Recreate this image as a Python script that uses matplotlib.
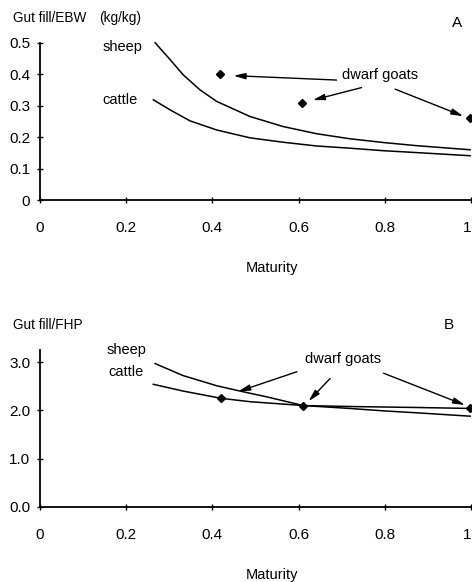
import matplotlib
matplotlib.use("Agg")
import matplotlib.pyplot as plt

plt.rcParams['font.family'] = ['Liberation Sans Narrow', 'Liberation Sans', 'DejaVu Sans']

# panel A: gut fill / empty body weight (kg/kg)
mat_a = [0.267, 0.285, 0.302, 0.332, 0.371, 0.410, 0.487, 0.564, 0.642, 0.719, 0.797, 0.874, 0.998]
sheep_a = [0.501, 0.473, 0.447, 0.399, 0.351, 0.314, 0.266, 0.234, 0.211, 0.195, 0.183, 0.173, 0.160]
mat_a_cattle = [0.263, 0.302, 0.348, 0.410, 0.487, 0.564, 0.642, 0.719, 0.797, 0.874, 0.998]
cattle_a = [0.319, 0.287, 0.252, 0.223, 0.198, 0.184, 0.172, 0.165, 0.157, 0.151, 0.141]
goats_mat_a = [0.418, 0.609, 0.998]
goats_a = [0.400, 0.308, 0.260]

# panel B: gut fill / fasted heart girth product
mat_b_sheep = [0.267, 0.332, 0.410, 0.464, 0.526, 0.611, 0.719, 0.797, 0.874, 0.998]
sheep_b = [2.97, 2.72, 2.51, 2.40, 2.28, 2.10, 2.04, 1.99, 1.95, 1.88]
mat_b_cattle = [0.263, 0.332, 0.420, 0.487, 0.611, 0.719, 0.874, 0.998]
cattle_b = [2.54, 2.40, 2.25, 2.18, 2.10, 2.08, 2.06, 2.04]
goats_mat_b = [0.420, 0.611, 0.998]
goats_b = [2.25, 2.09, 2.04]

x_ticks = [0, 0.2, 0.4, 0.6, 0.8, 1.0]
x_labels = ['0', '0.2', '0.4', '0.6', '0.8', '1']
a_ticks = [0, 0.1, 0.2, 0.3, 0.4, 0.5]
a_labels = ['0', '0.1', '0.2', '0.3', '0.4', '0.5']
b_ticks = [0, 1, 2, 3]
b_labels = ['0.0', '1.0', '2.0', '3.0']

W, H = 472, 582
fig = plt.figure(figsize=(W / 100, H / 100), dpi=100)

ax_a = fig.add_axes([40 / W, 1 - 200 / H, 431 / W, 157 / H])
ax_b = fig.add_axes([40 / W, 1 - 507 / H, 431 / W, 157 / H])


def style_axes(ax, yticks, ylabels, ymax):
    ax.set_xlim(0, 1)
    ax.set_ylim(0, ymax)
    for s in ['top', 'right']:
        ax.spines[s].set_visible(False)
    for s in ['left', 'bottom']:
        ax.spines[s].set_linewidth(1.3)
    ax.set_xticks(x_ticks)
    ax.set_xticklabels(x_labels)
    ax.set_yticks(yticks)
    ax.set_yticklabels(ylabels)
    ax.tick_params(axis='x', direction='inout', length=4, width=1, pad=13, labelsize=11)
    ax.tick_params(axis='y', direction='inout', length=4, width=1, pad=5, labelsize=11)
    # last x label sits right at the figure edge
    ax.get_xticklabels()[-1].set_horizontalalignment('right')
    ax.text(0.538, -0.43, 'Maturity', transform=ax.transAxes, ha='center',
            va='center', fontsize=10.5)


def arrow(ax, tail, tip):
    ax.annotate('', xy=tip, xytext=tail, xycoords='data', textcoords='data',
                arrowprops=dict(arrowstyle='-|>,head_length=0.7,head_width=0.18',
                                lw=1, color='black', shrinkA=0, shrinkB=0))


# --- panel A
style_axes(ax_a, a_ticks, a_labels, 0.5)
ax_a.plot(mat_a, sheep_a, color='black', lw=1.1, clip_on=False)
ax_a.plot(mat_a_cattle, cattle_a, color='black', lw=1.1, clip_on=False)
ax_a.plot(goats_mat_a, goats_a, 'D', color='black', markersize=4, clip_on=False)
ax_a.text(0.144, 0.487, 'sheep', ha='left', va='center', fontsize=10.5)
ax_a.text(0.144, 0.318, 'cattle', ha='left', va='center', fontsize=10.5)
ax_a.text(0.789, 0.398, 'dwarf goats', ha='center', va='center', fontsize=10.5)
arrow(ax_a, (0.688, 0.382), (0.449, 0.396))
arrow(ax_a, (0.746, 0.358), (0.633, 0.318))
arrow(ax_a, (0.824, 0.353), (0.982, 0.267))

# --- panel B
style_axes(ax_b, b_ticks, b_labels, 3.25)
ax_b.plot(mat_b_sheep, sheep_b, color='black', lw=1.1, clip_on=False)
ax_b.plot(mat_b_cattle, cattle_b, color='black', lw=1.1, clip_on=False)
ax_b.plot(goats_mat_b, goats_b, 'D', color='black', markersize=4, clip_on=False)
ax_b.text(0.155, 3.25, 'sheep', ha='left', va='center', fontsize=10.5, clip_on=False)
ax_b.text(0.158, 2.80, 'cattle', ha='left', va='center', fontsize=10.5)
ax_b.text(0.703, 3.06, 'dwarf goats', ha='center', va='center', fontsize=10.5)
arrow(ax_b, (0.596, 2.80), (0.460, 2.39))
arrow(ax_b, (0.673, 2.66), (0.623, 2.19))
arrow(ax_b, (0.797, 2.77), (0.986, 2.11))

# axis titles and panel letters
fig.text(13 / W, 1 - 18 / H, 'Gut fill/EBW', ha='left', va='center', fontsize=9.8)
fig.text(99 / W, 1 - 18 / H, '(kg/kg)', ha='left', va='center', fontsize=9.8)
fig.text(13 / W, 1 - 325 / H, 'Gut fill/FHP', ha='left', va='center', fontsize=9.8)
fig.text(457 / W, 1 - 23 / H, 'A', ha='center', va='center', fontsize=11)
fig.text(449 / W, 1 - 325 / H, 'B', ha='center', va='center', fontsize=11)

fig.savefig('out.png', dpi=100)
